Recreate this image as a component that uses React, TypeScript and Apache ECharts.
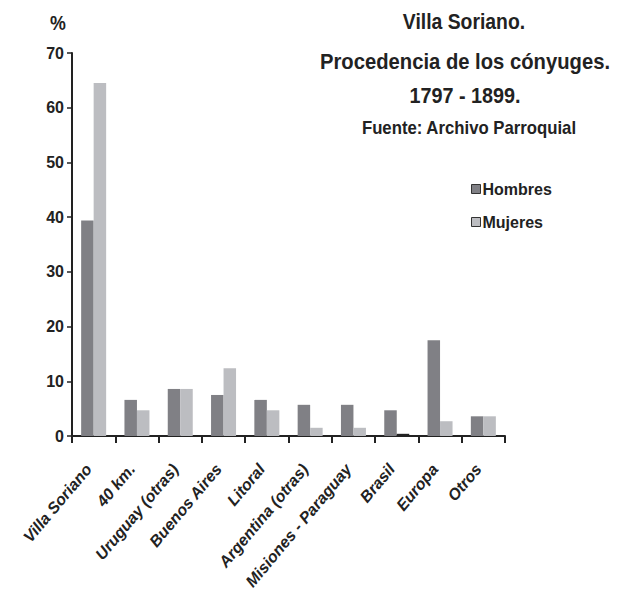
import React, { useEffect, useRef } from "react";
import * as echarts from "echarts";

const categories = [
  "Villa Soriano",
  "40 km.",
  "Uruguay (otras)",
  "Buenos Aires",
  "Litoral",
  "Argentina (otras)",
  "Misiones - Paraguay",
  "Brasil",
  "Europa",
  "Otros",
];
const hombres = [39.4, 6.6, 8.6, 7.5, 6.6, 5.7, 5.7, 4.7, 17.5, 3.6];
const mujeres = [64.5, 4.7, 8.6, 12.4, 4.7, 1.5, 1.5, 0.4, 2.7, 3.6];
const yTicks = [0, 10, 20, 30, 40, 50, 60, 70];
const titleLines = [
  "Villa Soriano.",
  "Procedencia de los cónyuges.",
  "1797 - 1899.",
  "Fuente: Archivo Parroquial",
];

const SANS = "'Liberation Sans', Arial, sans-serif";

export default function App() {
  const ref = useRef<HTMLDivElement>(null);
  useEffect(() => {
    if (!ref.current) return;
    const chart = echarts.init(ref.current, null, { renderer: "svg" });
    const mkText = (text: string, x: number, y: number, size: number, sx: number) => ({
      type: "text",
      x,
      y,
      scaleX: sx,
      style: {
        text,
        fill: "#222",
        font: `bold ${size}px ${SANS}`,
        textAlign: "center",
        textVerticalAlign: "middle",
      },
    });
    chart.setOption({
      animation: false,
      backgroundColor: "#fff",
      graphic: [
        mkText(titleLines[0], 464, 21, 22, 0.88),
        mkText(titleLines[1], 465, 61, 22, 0.92),
        mkText(titleLines[2], 465, 95, 22, 0.9),
        mkText(titleLines[3], 469, 128, 18, 0.93),
        mkText("%", 58, 22, 21, 0.85),
      ],
      legend: {
        orient: "vertical",
        left: 466,
        top: 176,
        itemWidth: 9,
        itemHeight: 9,
        itemGap: 17,
        icon: "rect",
        itemStyle: { borderColor: "#333", borderWidth: 1 },
        textStyle: { fontFamily: SANS, fontWeight: "bold", fontSize: 16, color: "#222", padding: [0, 0, 0, -3] },
        data: ["Hombres", "Mujeres"],
      },
      grid: { left: 72, right: 115, top: 53, bottom: 162, containLabel: false },
      xAxis: {
        type: "category",
        data: categories,
        axisLine: { lineStyle: { color: "#222", width: 2 } },
        axisTick: { show: true, length: 7, lineStyle: { color: "#222", width: 2 } },
        axisLabel: {
          interval: 0,
          rotate: 50,
          margin: 24,
          padding: [0, 8, 0, 0],
          fontFamily: SANS,
          fontWeight: "bold",
          fontStyle: "italic",
          fontSize: 16,
          color: "#222",
        },
      },
      yAxis: {
        type: "value",
        min: yTicks[0],
        max: yTicks[yTicks.length - 1],
        interval: 10,
        splitLine: { show: false },
        axisLine: { show: true, lineStyle: { color: "#222", width: 2 } },
        axisTick: { show: true, length: 5, lineStyle: { color: "#222", width: 1.5 } },
        axisLabel: { fontFamily: SANS, fontWeight: "bold", fontSize: 16, color: "#222", margin: 8 },
      },
      series: [
        {
          name: "Hombres",
          type: "bar",
          data: hombres,
          barWidth: 12.5,
          barGap: "0%",
          itemStyle: { color: "#808085" },
        },
        {
          name: "Mujeres",
          type: "bar",
          data: mujeres.map((v, i) => (categories[i] === "Brasil" ? { value: v, itemStyle: { color: "#222" } } : v)),
          barWidth: 12.5,
          barGap: "0%",
          itemStyle: { color: "#bcbdc1" },
        },
      ],
    });
    return () => chart.dispose();
  }, []);
  return <div ref={ref} style={{ width: 620, height: 598, marginLeft: -8, marginTop: -8 }} />;
}
